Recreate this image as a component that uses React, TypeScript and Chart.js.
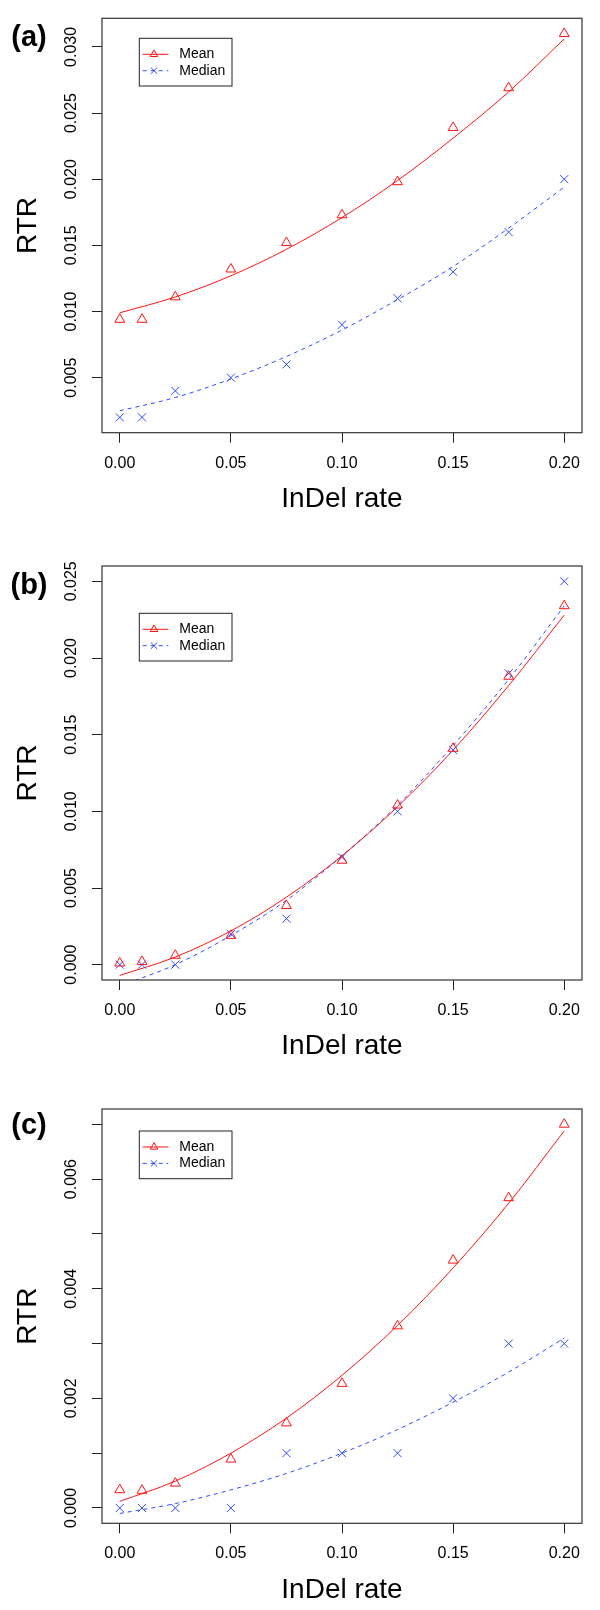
import React, { useEffect, useRef } from 'react';
import { Chart, registerables } from 'chart.js';

Chart.register(...registerables);

// ---------------- data ----------------
const xRate = [0, 0.01, 0.025, 0.05, 0.075, 0.1, 0.125, 0.15, 0.175, 0.2];
const fitX = [0, 0.025, 0.05, 0.075, 0.1, 0.125, 0.15, 0.175, 0.2];
const xTicks = [0, 0.05, 0.1, 0.15, 0.2];

const meanA = [0.0094, 0.0094, 0.0111, 0.0132, 0.0152, 0.0173, 0.0198, 0.0239, 0.0269, 0.031];
const medianA = [0.002, 0.002, 0.004, 0.005, 0.006, 0.009, 0.011, 0.013, 0.016, 0.02];
const meanFitA = [0.0099, 0.0111, 0.0127, 0.0147, 0.0171, 0.0199, 0.0231, 0.0266, 0.0306];
const medianFitA = [0.0025, 0.0035, 0.0049, 0.0066, 0.0086, 0.0109, 0.0134, 0.0163, 0.0194];
const yTicksA = [0.005, 0.01, 0.015, 0.02, 0.025, 0.03];
const yLabelsA = [0.005, 0.01, 0.015, 0.02, 0.025, 0.03];

const meanB = [0.0001, 0.0002, 0.0006, 0.0019, 0.00385, 0.0068, 0.0104, 0.0141, 0.0188, 0.0234];
const medianB = [0, 0, 0, 0.002, 0.003, 0.007, 0.01, 0.014, 0.019, 0.025];
const meanFitB = [-0.0007, 0.0005, 0.0022, 0.0044, 0.0071, 0.0103, 0.014, 0.0182, 0.0228];
const medianFitB = [-0.0014, 0.0, 0.0019, 0.0042, 0.0071, 0.0104, 0.0143, 0.0186, 0.0234];
const yTicksB = [0, 0.005, 0.01, 0.015, 0.02, 0.025];
const yLabelsB = [0, 0.005, 0.01, 0.015, 0.02, 0.025];

const meanC = [0.00033, 0.00032, 0.00045, 0.00089, 0.00155, 0.00227, 0.00332, 0.00452, 0.00566, 0.007];
const medianC = [0, 0, 0, 0, 0.001, 0.001, 0.001, 0.002, 0.003, 0.003];
const meanFitC = [0.00012, 0.00049, 0.001, 0.00164, 0.00242, 0.00333, 0.00438, 0.00556, 0.00688];
const medianFitC = [-0.0001, 0.00008, 0.00033, 0.00063, 0.001, 0.00143, 0.00193, 0.00248, 0.0031];
const yTicksC = [0, 0.001, 0.002, 0.003, 0.004, 0.005, 0.006, 0.007];
const yLabelsC = [0, 0.002, 0.004, 0.006];

const seriesNames = ['Mean', 'Median'];
const panelLetters = ['(a)', '(b)', '(c)'];
const xTitle = 'InDel rate';
const yTitle = 'RTR';

// ---------------- styles / layout ----------------
const FONT = "'Liberation Sans', Arial, Helvetica, sans-serif";
const RED = 'rgb(255,20,20)';
const BLUE = 'rgb(45,75,255)';
const AXIS = '#222';

type PanelCfg = {
  top: number; height: number; boxTop: number; boxBottom: number;
  yMin: number; yMax: number; yTicks: number[]; yLabels: number[];
  mean: number[]; median: number[]; meanFit: number[]; medianFit: number[];
  legendOffset: number; letter: string; letterCenter: number;
};

const panels: PanelCfg[] = [
  { top: 0, height: 540, boxTop: 18.3, boxBottom: 432.7, yMin: 0.00084, yMax: 0.03216,
    yTicks: yTicksA, yLabels: yLabelsA, mean: meanA, median: medianA, meanFit: meanFitA, medianFit: medianFitA,
    legendOffset: 20, letter: panelLetters[0], letterCenter: 38.3 },
  { top: 540, height: 540, boxTop: 566, boxBottom: 980, yMin: -0.001, yMax: 0.026,
    yTicks: yTicksB, yLabels: yLabelsB, mean: meanB, median: medianB, meanFit: meanFitB, medianFit: medianFitB,
    legendOffset: 47.3, letter: panelLetters[1], letterCenter: 586.7 },
  { top: 1080, height: 530, boxTop: 1109, boxBottom: 1523.3, yMin: -0.00028, yMax: 0.00728,
    yTicks: yTicksC, yLabels: yLabelsC, mean: meanC, median: medianC, meanFit: meanFitC, medianFit: medianFitC,
    legendOffset: 22, letter: panelLetters[2], letterCenter: 1126.7 },
];

const framePlugin = {
  id: 'rframe',
  afterDatasetsDraw(chart: any) {
    const { ctx, chartArea } = chart;
    const { left, top, right, bottom } = chartArea;
    ctx.save();
    ctx.strokeStyle = '#333';
    ctx.lineWidth = 1.2;
    ctx.setLineDash([]);
    ctx.strokeRect(left, top, right - left, bottom - top);
    ctx.restore();
  },
};

function drawTri(ctx: CanvasRenderingContext2D, x: number, y: number, r: number) {
  ctx.beginPath();
  for (let k = 0; k < 3; k++) {
    const a = (k * 2 * Math.PI) / 3;
    const px = x + Math.sin(a) * r;
    const py = y - Math.cos(a) * r;
    if (k === 0) ctx.moveTo(px, py); else ctx.lineTo(px, py);
  }
  ctx.closePath();
  ctx.stroke();
}
function drawX(ctx: CanvasRenderingContext2D, x: number, y: number, r: number) {
  const d = r * Math.SQRT1_2;
  ctx.beginPath();
  ctx.moveTo(x - d, y - d); ctx.lineTo(x + d, y + d);
  ctx.moveTo(x - d, y + d); ctx.lineTo(x + d, y - d);
  ctx.stroke();
}

const legendPlugin = {
  id: 'rlegend',
  afterDraw(chart: any, _args: any, opts: any) {
    const { ctx, chartArea } = chart;
    const x = chartArea.left + 37.3;
    const y = chartArea.top + opts.offset;
    const w = 92.7, h = 47.7;
    ctx.save();
    ctx.fillStyle = '#fff';
    ctx.fillRect(x, y, w, h);
    ctx.strokeStyle = '#222';
    ctx.lineWidth = 1;
    ctx.strokeRect(x, y, w, h);
    const rows = [
      { label: seriesNames[0], color: RED, dash: [] as number[], shape: 'tri' },
      { label: seriesNames[1], color: BLUE, dash: [4, 4], shape: 'x' },
    ];
    rows.forEach((r, i) => {
      const cy = y + 16 + i * 16.4;
      ctx.strokeStyle = r.color;
      ctx.lineWidth = 1;
      ctx.setLineDash(r.dash);
      ctx.beginPath();
      ctx.moveTo(x + 3.4, cy);
      ctx.lineTo(x + 29, cy);
      ctx.stroke();
      ctx.setLineDash([]);
      if (r.shape === 'tri') drawTri(ctx, x + 14.7, cy, 4.4);
      else drawX(ctx, x + 14.7, cy, 4.4);
      ctx.fillStyle = '#000';
      ctx.font = `14px ${FONT}`;
      ctx.textAlign = 'left';
      ctx.textBaseline = 'middle';
      ctx.fillText(r.label, x + 40, cy);
    });
    ctx.restore();
  },
};

function Panel({ cfg }: { cfg: PanelCfg }) {
  const ref = useRef<HTMLCanvasElement>(null);
  useEffect(() => {
    const boxTopLocal = cfg.boxTop - cfg.top;
    const boxBottomLocal = cfg.boxBottom - cfg.top;
    const xAxisHeight = cfg.height - boxBottomLocal;
    const titleCenterLocal = boxBottomLocal + 66.5;
    const titlePadBottom = cfg.height - titleCenterLocal - 16.8;
    const near = (v: number, arr: number[]) => arr.some((a) => Math.abs(a - v) < 1e-9);

    const chart = new Chart(ref.current as HTMLCanvasElement, {
      type: 'scatter',
      data: {
        datasets: [
          {
            label: seriesNames[0],
            data: xRate.map((x, i) => ({ x, y: cfg.mean[i] })),
            showLine: false,
            pointStyle: 'triangle',
            pointRadius: 5.7,
            pointBorderWidth: 1,
            borderColor: RED,
            backgroundColor: 'rgba(0,0,0,0)',
          },
          {
            label: seriesNames[1],
            data: xRate.map((x, i) => ({ x, y: cfg.median[i] })),
            showLine: false,
            pointStyle: 'crossRot',
            pointRadius: 5.7,
            pointBorderWidth: 1,
            borderColor: BLUE,
            backgroundColor: 'rgba(0,0,0,0)',
          },
          {
            label: seriesNames[0] + ' fit',
            data: fitX.map((x, i) => ({ x, y: cfg.meanFit[i] })),
            showLine: true,
            pointRadius: 0,
            borderWidth: 1,
            borderColor: RED,
            cubicInterpolationMode: 'monotone',
          },
          {
            label: seriesNames[1] + ' fit',
            data: fitX.map((x, i) => ({ x, y: cfg.medianFit[i] })),
            showLine: true,
            pointRadius: 0,
            borderWidth: 1,
            borderColor: BLUE,
            borderDash: [4, 4],
            cubicInterpolationMode: 'monotone',
          },
        ] as any,
      },
      options: {
        responsive: false,
        animation: false,
        devicePixelRatio: 1,
        events: [],
        layout: { padding: { top: boxTopLocal, left: 0, right: 18, bottom: 0 } },
        plugins: {
          legend: { display: false },
          tooltip: { enabled: false },
          rlegend: { offset: cfg.legendOffset },
        } as any,
        scales: {
          x: {
            type: 'linear',
            min: -0.008,
            max: 0.208,
            afterBuildTicks: (s: any) => { s.ticks = xTicks.map((v) => ({ value: v })); },
            afterFit: (s: any) => { s.height = xAxisHeight; },
            grid: { drawOnChartArea: false, drawTicks: true, tickLength: 10, color: AXIS, lineWidth: 1 },
            border: { display: false },
            ticks: {
              autoSkip: false, minRotation: 0, maxRotation: 0, padding: 11, color: '#000',
              font: { family: FONT, size: 16 },
              callback: (v: any) => Number(v).toFixed(2),
            },
            title: {
              display: true, text: xTitle, color: '#000',
              font: { family: FONT, size: 28 },
              padding: { top: 0, bottom: titlePadBottom },
            },
          },
          y: {
            type: 'linear',
            min: cfg.yMin,
            max: cfg.yMax,
            afterBuildTicks: (s: any) => { s.ticks = cfg.yTicks.map((v) => ({ value: v })); },
            afterFit: (s: any) => { s.width = 102; },
            grid: { drawOnChartArea: false, drawTicks: true, tickLength: 10, color: AXIS, lineWidth: 1 },
            border: { display: false },
            ticks: {
              autoSkip: false, minRotation: 90, maxRotation: 90, crossAlign: 'center', padding: 0, color: '#000',
              font: { family: FONT, size: 16 },
              callback: (v: any) => (near(Number(v), cfg.yLabels) ? Number(v).toFixed(3) : ''),
            },
            title: {
              display: true, text: yTitle, color: '#000',
              font: { family: FONT, size: 28 },
              padding: { top: 11, bottom: 0 },
            },
          },
        } as any,
      },
      plugins: [framePlugin, legendPlugin],
    });
    return () => chart.destroy();
  }, [cfg]);

  return (
    <canvas
      ref={ref}
      width={600}
      height={cfg.height}
      style={{ position: 'absolute', left: 0, top: cfg.top, width: 600, height: cfg.height }}
    />
  );
}

export default function App() {
  return (
    <div style={{ position: 'absolute', left: 0, top: 0, width: 600, height: 1610, background: '#fff', overflow: 'hidden' }}>
      {panels.map((p, i) => (
        <Panel key={i} cfg={p} />
      ))}
      {panels.map((p, i) => (
        <div
          key={'l' + i}
          style={{
            position: 'absolute', left: 0, width: 58, textAlign: 'center',
            top: p.letterCenter - 19.5, height: 34, lineHeight: '34px',
            fontFamily: FONT, fontWeight: 'bold', fontSize: 29, color: '#000',
          }}
        >
          {p.letter}
        </div>
      ))}
    </div>
  );
}
